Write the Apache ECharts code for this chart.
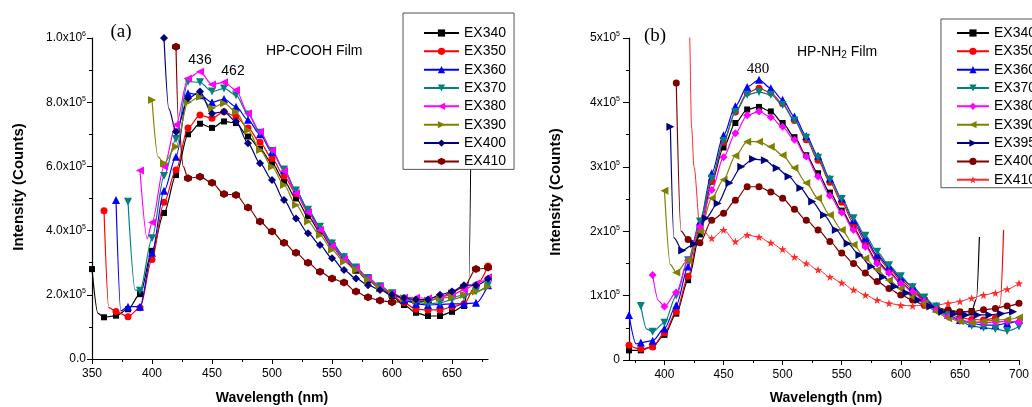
<!DOCTYPE html>
<html><head><meta charset="utf-8">
<script src="https://cdn.jsdelivr.net/npm/echarts@6/dist/echarts.min.js"></script>
<style>html,body{margin:0;padding:0;background:#fff}#c{width:1032px;height:407px}</style>
</head><body><div id="c"></div>
<script>
// ===== DATA (intensity values in units of 1e5 counts, one value every 10 nm) =====
// Panel (a) HP-COOH Film
const namesA = ['EX340','EX350','EX360','EX370','EX380','EX390','EX400','EX410'];
const startA = [350,360,370,380,390,400,410,420];
const a340 = [2.8,1.3,1.35,1.55,2.02,3.37,4.55,5.73,7.0,7.33,7.2,7.4,7.35,6.93,6.55,6.1,5.55,5.0,4.45,3.97,3.5,3.1,2.75,2.45,2.2,1.95,1.68,1.44,1.34,1.34,1.47,1.65];
const a350 = [4.62,1.48,1.32,1.6,3.1,4.88,5.89,7.2,7.6,7.5,7.7,7.55,7.2,6.75,6.25,5.7,5.15,4.6,4.05,3.58,3.15,2.8,2.5,2.25,2.0,1.75,1.55,1.53,1.53,1.62,1.72,2.3,2.9];
const a360 = [4.95,1.63,1.63,3.31,5.24,6.3,8.28,8.22,8.0,8.1,7.86,7.45,7.0,6.45,5.88,5.25,4.65,4.12,3.62,3.2,2.85,2.52,2.27,2.05,1.85,1.72,1.68,1.7,1.72,1.72,1.75,2.3];
const a370 = [4.9,2.13,3.76,5.7,6.85,8.64,8.62,8.33,8.43,8.22,7.62,7.05,6.48,5.9,5.25,4.65,4.12,3.6,3.17,2.85,2.52,2.27,2.05,1.88,1.78,1.72,1.75,1.85,1.95,2.1,2.3];
const a380 = [5.87,4.25,6.0,7.3,8.74,8.95,8.55,8.62,8.38,7.65,7.08,6.5,5.86,5.16,4.57,4.02,3.52,3.11,2.83,2.51,2.25,2.05,1.91,1.91,1.89,1.93,2.0,2.15,2.35,2.55];
const a390 = [8.07,6.1,6.61,8.0,8.17,7.82,7.97,7.7,7.13,6.51,5.99,5.42,4.8,4.28,3.86,3.4,3.03,2.77,2.46,2.2,2.03,1.88,1.82,1.82,1.9,1.92,2.0,2.1,2.25];
const a400 = [10.0,7.08,8.12,8.33,7.65,7.7,7.4,6.72,6.1,5.58,4.95,4.38,3.92,3.55,3.14,2.77,2.51,2.3,2.15,2.0,1.9,1.85,1.85,2.0,2.1,2.3,2.3,2.5];
const a410 = [9.73,5.63,5.68,5.49,5.14,5.11,4.72,4.28,3.97,3.62,3.31,3.0,2.72,2.51,2.38,2.1,1.92,1.82,1.77,1.79,1.79,1.8,1.91,2.08,2.25,2.8,2.85];
// unmarked points of the traced curves [nm, value]
const xa340 = [[355,1.42],[664,2.4],[667,12]];
const xa350 = [[364,1.6]];
const xa360 = [[374,1.5]];
const xa370 = [[386,2.15]];
const xa380 = [[396,3.75]];
const xa390 = [[405,6.3]];
const xa400 = [[414,7.8]];
const xa410 = [[422,7.4],[426,6.0]];

// Panel (b) HP-NH2 Film
const namesB = ['EX340','EX350','EX360','EX370','EX380','EX390','EX395','EX400','EX410'];
const startB = [370,370,370,380,390,400,405,410,420];
const b340 = [0.15,0.15,0.21,0.39,0.72,1.24,1.95,2.77,3.3,3.68,3.89,3.93,3.86,3.68,3.46,3.18,2.9,2.6,2.32,2.05,1.78,1.53,1.37,1.2,1.06,0.93,0.82,0.76,0.74,0.76];
const b350 = [0.23,0.17,0.2,0.42,0.75,1.3,2.05,2.78,3.38,3.85,4.15,4.22,4.15,3.98,3.72,3.42,3.1,2.76,2.45,2.12,1.85,1.6,1.42,1.24,1.1,0.94,0.8,0.72,0.66,0.63,0.62,0.65];
const b360 = [0.7,0.27,0.3,0.49,0.85,1.45,2.15,2.9,3.49,3.94,4.24,4.35,4.22,4.04,3.78,3.48,3.17,2.82,2.51,2.17,1.89,1.63,1.45,1.27,1.14,0.96,0.8,0.7,0.62,0.57,0.54,0.54,0.57,0.62];
const b370 = [0.84,0.44,0.58,1.0,1.55,2.15,2.82,3.4,3.85,4.12,4.16,4.12,3.96,3.72,3.45,3.14,2.8,2.5,2.2,1.93,1.68,1.47,1.3,1.13,0.97,0.83,0.7,0.6,0.53,0.5,0.48,0.45,0.52];
const b380 = [1.32,0.83,1.05,1.55,2.07,2.64,3.15,3.52,3.8,3.86,3.77,3.62,3.42,3.16,2.85,2.55,2.29,2.02,1.76,1.5,1.35,1.19,1.06,0.91,0.78,0.67,0.62,0.59,0.58,0.59,0.6,0.59];
const b390 = [2.63,1.36,1.55,2.0,2.51,2.8,3.17,3.39,3.39,3.31,3.18,2.98,2.75,2.51,2.25,2.02,1.79,1.58,1.4,1.24,1.11,0.98,0.88,0.75,0.65,0.6,0.58,0.6,0.62,0.63,0.66];
const b395 = [3.62,1.7,1.8,2.2,2.43,2.75,3.0,3.12,3.1,2.98,2.85,2.67,2.46,2.25,2.02,1.81,1.63,1.45,1.29,1.14,1.04,0.93,0.83,0.75,0.72,0.7,0.7,0.7,0.72,0.75];
const b400 = [4.3,1.87,1.82,2.17,2.28,2.48,2.69,2.69,2.61,2.51,2.34,2.17,2.02,1.84,1.66,1.5,1.35,1.22,1.11,1.01,0.93,0.85,0.8,0.78,0.75,0.75,0.78,0.8,0.84,0.88];
const b410 = [9.0,2.07,1.89,2.02,1.84,1.94,1.91,1.82,1.72,1.6,1.5,1.4,1.29,1.2,1.09,1.01,0.93,0.88,0.85,0.84,0.85,0.85,0.88,0.91,0.96,1.01,1.04,1.1,1.19];
const xb340 = [[664,0.95],[666.5,1.91]];
const xb350 = [[684,0.85],[687,2.02]];
const xb360 = [[376,0.25]];
const xb370 = [[385,0.48]];
const xb380 = [[395,0.92]];
const xb390 = [[405,1.48]];
const xb395 = [[408,1.9]];
const xb400 = [[414,2.0]];
const xb410 = [[421,5.2],[423,3.6],[425,3.0]];

// tick labels
const xMajorA = [350,400,450,500,550,600,650];
const xMinorA = [375,425,475,525,575,625,675];
const xMajorB = [400,450,500,550,600,650,700];
const xMinorB = [375,425,475,525,575,625,675];
const yTicksA = ['0.0','2.0x10^5','4.0x10^5','6.0x10^5','8.0x10^5','1.0x10^6'];
const yTicksB = ['0','1x10^5','2x10^5','3x10^5','4x10^5','5x10^5'];

// ===== STYLE =====
const FONT = "'Liberation Sans', Arial, sans-serif";
const SERIF = "'Liberation Serif', 'Times New Roman', serif";
const HEX = 'path://M0,-10L8.66,-5L8.66,5L0,10L-8.66,5L-8.66,-5Z';
const STAR = 'path://M0,-10L2.35,-3.24L9.51,-3.09L3.8,1.24L5.88,8.09L0,4L-5.88,8.09L-3.8,1.24L-9.51,-3.09L-2.35,-3.24Z';
const styA = [
  {c:'#000000', s:'rect', z:7},
  {c:'#ff0000', s:'circle', z:8},
  {c:'#0000ff', s:'triangle', z:9},
  {c:'#008080', s:'triangle', r:180, z:9},
  {c:'#ff00ff', s:'triangle', r:90, z:9},
  {c:'#808000', s:'triangle', r:-90, z:9},
  {c:'#000080', s:'diamond', z:9},
  {c:'#800000', s:HEX, z:8}
];
const styB = [
  {c:'#000000', s:'rect', z:7},
  {c:'#ff0000', s:'circle', z:8},
  {c:'#0000ff', s:'triangle', z:9},
  {c:'#008080', s:'triangle', r:180, z:9},
  {c:'#ff00ff', s:'diamond', z:9},
  {c:'#808000', s:'triangle', r:90, z:9},
  {c:'#000080', s:'triangle', r:-90, z:9},
  {c:'#800000', s:'circle', z:8},
  {c:'#ff2a2a', s:STAR, z:8, w:1}
];
const sizeOf = s => s === 'rect' ? 6 : (s === 'circle' ? 7 : 8);

function buildData(start, vals, extras) {
  const pts = vals.map((v, i) => ({value: [start + i * 10, v * 1e5]}));
  extras.forEach(e => pts.push({value: [e[0], e[1] * 1e5], symbol: 'none'}));
  pts.sort((p, q) => p.value[0] - q.value[0]);
  return pts;
}
const valsA = [a340,a350,a360,a370,a380,a390,a400,a410];
const extA = [xa340,xa350,xa360,xa370,xa380,xa390,xa400,xa410];
const valsB = [b340,b350,b360,b370,b380,b390,b395,b400,b410];
const extB = [xb340,xb350,xb360,xb370,xb380,xb390,xb395,xb400,xb410];

const series = [];
function addSeries(prefix, names, starts, vals, exts, sty, axisIdx) {
  names.forEach((n, i) => {
    const st = sty[i];
    series.push({
      name: prefix + n, type: 'line', xAxisIndex: axisIdx * 2, yAxisIndex: axisIdx,
      data: buildData(starts[i], vals[i], exts[i]),
      smooth: 0.3, smoothMonotone: 'x', clip: true,
      symbol: st.s, symbolSize: sizeOf(st.s), symbolRotate: st.r || 0,
      showAllSymbol: true,
      lineStyle: {color: st.c, width: st.w || 1.2},
      itemStyle: {color: st.c},
      z: st.z, animation: false, emphasis: {disabled: true}
    });
  });
}
addSeries('a:', namesA, startA, valsA, extA, styA, 0);
addSeries('b:', namesB, startB, valsB, extB, styB, 1);

function yFmt(list, step) {
  return v => {
    const t = list[Math.round(v / step)];
    if (t === undefined) return '';
    const p = t.split('^');
    return p.length > 1 ? '{m|' + p[0] + '}{e|' + p[1] + '}' : '{m|' + p[0] + '}';
  };
}
const yRich = {
  m: {fontSize: 12, fontFamily: FONT, color: '#000', lineHeight: 14},
  e: {fontSize: 7, fontFamily: FONT, color: '#000', verticalAlign: 'top', lineHeight: 14, padding: [0,0,6,0]}
};
const axLine = {show: true, lineStyle: {color: '#000', width: 1.2}};

function xAxes(gridIndex, min, max, major, minor) {
  return [
    {type: 'value', gridIndex, min, max, position: 'bottom',
     axisLine: axLine, splitLine: {show: false},
     axisTick: {show: true, length: 5, inside: false, customValues: major, lineStyle: {color: '#000'}},
     axisLabel: {show: true, customValues: major, margin: 9, fontSize: 12, fontFamily: FONT, color: '#000'}},
    {type: 'value', gridIndex, min, max, position: 'bottom', offset: 0,
     axisLine: {show: false}, splitLine: {show: false},
     axisTick: {show: true, length: 3, customValues: minor, lineStyle: {color: '#000'}},
     axisLabel: {show: false}}
  ];
}

const legendCommon = {
  orient: 'vertical', itemHeight: 9, itemGap: 4.34,
  borderColor: '#555', borderWidth: 1, backgroundColor: '#fff', z: 20,
  selectedMode: false, formatter: n => n.slice(2),
  textStyle: {fontSize: 14, fontFamily: FONT, color: '#000'}
};

const option = {
  backgroundColor: '#ffffff',
  animation: false,
  grid: [
    {left: 92, top: 38, width: 396, height: 321},
    {left: 629, top: 38, width: 396, height: 322}
  ],
  xAxis: [].concat(xAxes(0, 350, 680, xMajorA, xMinorA), xAxes(1, 370, 700, xMajorB, xMinorB)),
  yAxis: [
    {type: 'value', gridIndex: 0, min: 0, max: 1e6, interval: 2e5,
     axisLine: axLine, splitLine: {show: false},
     axisTick: {show: true, length: 5, lineStyle: {color: '#000'}},
     minorTick: {show: true, splitNumber: 2, length: 3, lineStyle: {color: '#000'}},
     axisLabel: {margin: 6, formatter: yFmt(yTicksA, 2e5), rich: yRich}},
    {type: 'value', gridIndex: 1, min: 0, max: 5e5, interval: 1e5,
     axisLine: axLine, splitLine: {show: false},
     axisTick: {show: true, length: 6, lineStyle: {color: '#000'}},
     minorTick: {show: true, splitNumber: 2, length: 3, lineStyle: {color: '#000'}},
     axisLabel: {margin: 9, formatter: yFmt(yTicksB, 1e5), rich: yRich}}
  ],
  legend: [
    Object.assign({}, legendCommon, {data: namesA.map(n => 'a:' + n), left: 403, top: 13,
      itemWidth: 35, padding: [13, 8, 1, 20]}),
    Object.assign({}, legendCommon, {data: namesB.map(n => 'b:' + n), right: -12, top: 19,
      itemWidth: 32, padding: [7, 8, 1, 15]})
  ],
  graphic: [
    {type: 'text', x: 121, y: 32, z: 30, style: {text: '(a)', font: '19px ' + SERIF, fill: '#000', align: 'center', verticalAlign: 'middle'}},
    {type: 'text', x: 655, y: 36, z: 30, style: {text: '(b)', font: '19px ' + SERIF, fill: '#000', align: 'center', verticalAlign: 'middle'}},
    {type: 'text', x: 266, y: 51, z: 30, style: {text: 'HP-COOH Film', font: '14px ' + FONT, fill: '#000', align: 'left', verticalAlign: 'middle'}},
    {type: 'text', x: 797, y: 52, z: 30, style: {text: '{n|HP-NH}{s|2}{n| Film}', align: 'left', verticalAlign: 'middle',
      rich: {n: {fontSize: 14, fontFamily: FONT, fill: '#000', lineHeight: 16}, s: {fontSize: 10, fontFamily: FONT, fill: '#000', verticalAlign: 'bottom', lineHeight: 16, padding: [6,0,0,0]}}}},
    {type: 'text', x: 200, y: 60, z: 30, style: {text: '436', font: '14px ' + FONT, fill: '#000', align: 'center', verticalAlign: 'middle'}},
    {type: 'text', x: 233, y: 71, z: 30, style: {text: '462', font: '14px ' + FONT, fill: '#000', align: 'center', verticalAlign: 'middle'}},
    {type: 'text', x: 758, y: 69, z: 30, style: {text: '480', font: '15px ' + SERIF, fill: '#000', align: 'center', verticalAlign: 'middle'}},
    {type: 'text', x: 19, y: 187, rotation: Math.PI / 2, z: 30, style: {text: 'Intensity (Counts)', font: 'bold 15px ' + FONT, fill: '#000', align: 'center', verticalAlign: 'middle'}},
    {type: 'text', x: 556, y: 192, rotation: Math.PI / 2, z: 30, style: {text: 'Intensity (Counts)', font: 'bold 15px ' + FONT, fill: '#000', align: 'center', verticalAlign: 'middle'}},
    {type: 'text', x: 272, y: 398, z: 30, style: {text: 'Wavelength (nm)', font: 'bold 14px ' + FONT, fill: '#000', align: 'center', verticalAlign: 'middle'}},
    {type: 'text', x: 826, y: 398, z: 30, style: {text: 'Wavelength (nm)', font: 'bold 14px ' + FONT, fill: '#000', align: 'center', verticalAlign: 'middle'}}
  ],
  series
};
const chart = echarts.init(document.getElementById('c'), null, {renderer: 'canvas'});
chart.setOption(option);
</script>
</body></html>
